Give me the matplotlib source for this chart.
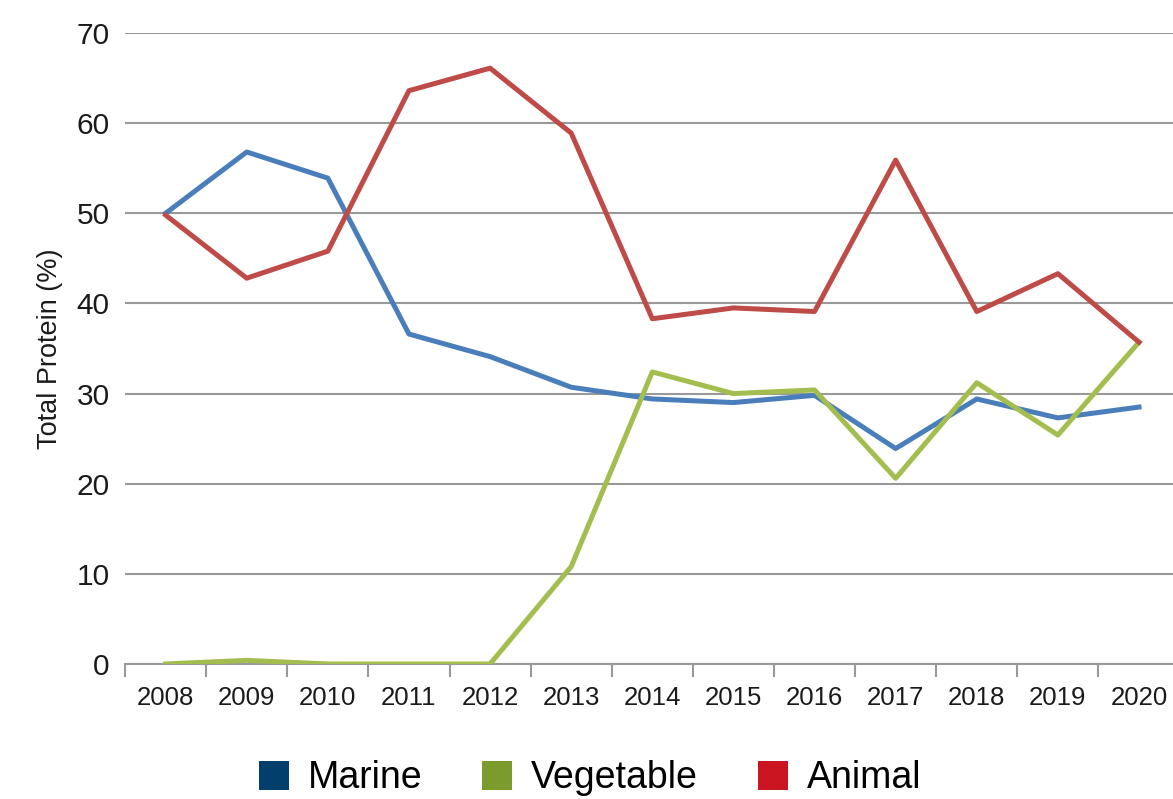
import matplotlib
matplotlib.use("Agg")
import matplotlib.pyplot as plt
from matplotlib.patches import Patch
import numpy as np

plt.rcParams["font.family"] = ["Liberation Sans", "DejaVu Sans"]

# Share of total protein by source, per year
years = ["2008", "2009", "2010", "2011", "2012", "2013", "2014",
         "2015", "2016", "2017", "2018", "2019", "2020"]
marine = [50.0, 56.8, 53.9, 36.6, 34.1, 30.7, 29.4, 29.0, 29.8, 23.9, 29.4, 27.3, 28.5]
vegetable = [0.0, 0.4, 0.0, 0.0, 0.0, 10.8, 32.4, 30.0, 30.4, 20.6, 31.2, 25.4, 35.7]
animal = [49.8, 42.8, 45.8, 63.6, 66.1, 58.9, 38.3, 39.5, 39.1, 55.9, 39.1, 43.3, 35.7]

line_colors = {"Marine": "#4a7ebb", "Vegetable": "#a3bd4e", "Animal": "#be4b48"}
key_colors = {"Marine": "#033f6c", "Vegetable": "#7b9b2d", "Animal": "#cb1521"}
grid_color = "#999999"

fig = plt.figure(figsize=(11.73, 7.99), dpi=100)
# plot area runs a little past the right edge of the figure
ax = fig.add_axes([0.1066, 0.169, 0.899, 0.7897])

x = np.arange(len(years))
ax.plot(x, marine, color=line_colors["Marine"], lw=3.6, zorder=3)
ax.plot(x, vegetable, color=line_colors["Vegetable"], lw=3.6, zorder=4)
ax.plot(x, animal, color=line_colors["Animal"], lw=3.6, zorder=5)

ax.set_xlim(-0.5, len(years) - 0.5)
ax.set_ylim(0, 70)

ax.set_yticks(range(0, 71, 10))
ax.yaxis.grid(True, color=grid_color, lw=1.5)
ax.tick_params(axis="y", length=0, pad=11, labelsize=21.5, colors="#1a1a1a")

ax.set_xticks(x)
ax.set_xticklabels(years)
ax.set_xticks(np.arange(-0.5, len(years)), minor=True)
ax.tick_params(axis="x", which="major", length=0, pad=16, labelsize=18.5,
               colors="#1a1a1a")
ax.tick_params(axis="x", which="minor", length=9, width=1.5, color=grid_color)

for side in ["top", "right", "left"]:
    ax.spines[side].set_visible(False)
ax.spines["bottom"].set_color(grid_color)
ax.spines["bottom"].set_linewidth(1.5)
ax.set_axisbelow(True)

ax.set_ylabel("Total Protein (%)", fontsize=19.5, color="#1a1a1a", labelpad=10)

handles = [Patch(facecolor=key_colors[k], edgecolor="none", label=k)
           for k in ["Marine", "Vegetable", "Animal"]]
fig.legend(handles=handles, loc="center", bbox_to_anchor=(0.503, 0.026),
           ncol=3, frameon=False, fontsize=27, handlelength=0.8,
           handleheight=0.8, handletextpad=0.5, columnspacing=1.6)

fig.savefig("out.png", dpi=100)
plt.close(fig)
